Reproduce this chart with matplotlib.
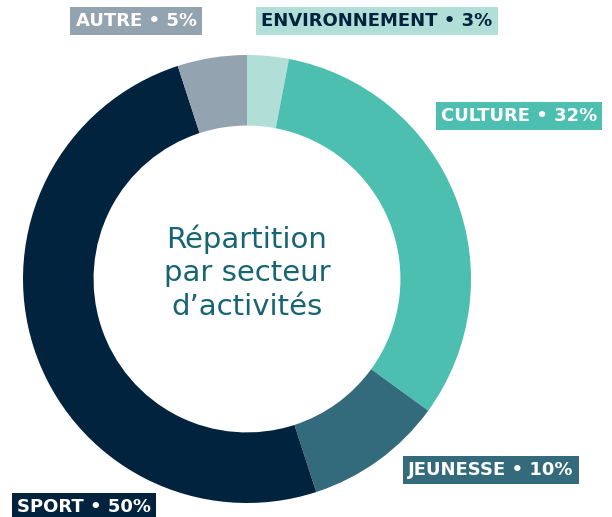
import matplotlib
matplotlib.use('Agg')
import matplotlib.pyplot as plt

# Activity sectors, clockwise from 12 o'clock
sectors = ['ENVIRONNEMENT', 'CULTURE', 'JEUNESSE', 'SPORT', 'AUTRE']
shares = [3, 32, 10, 50, 5]
colors = ['#b2ded8', '#4cbfb1', '#346b7c', '#02233d', '#94a3b0']
text_colors = ['#02233d', 'white', 'white', 'white', 'white']

# label anchor (pixels from top-left) for each sector tag
label_pos = {
    'ENVIRONNEMENT': (377, 21),
    'CULTURE': (519, 116),
    'JEUNESSE': (491, 470),
    'SPORT': (84, 507),
    'AUTRE': (136, 21),
}

W, H = 612, 517
fig = plt.figure(figsize=(W / 100, H / 100), dpi=100)

cx, cy, r = 247, 279, 224
ax = fig.add_axes([(cx - r) / W, (H - cy - r) / H, 2 * r / W, 2 * r / H])
ax.pie(shares, colors=colors, startangle=90, counterclock=False,
       radius=1.0, wedgeprops=dict(width=0.315, linewidth=0))
ax.set_xlim(-1, 1)
ax.set_ylim(-1, 1)
ax.set_aspect('equal')
ax.axis('off')

ax.text(0, 0.03, 'Répartition\npar secteur\nd’activités', ha='center', va='center',
        fontsize=21, color='#176473', linespacing=1.25, family='DejaVu Sans')

for name, val, col, tcol in zip(sectors, shares, colors, text_colors):
    x, y = label_pos[name]
    fig.text(x / W, 1 - y / H, f'{name} • {val}%', ha='center', va='center',
             fontsize=13, fontweight='bold', color=tcol,
             bbox=dict(boxstyle='square,pad=0.28', facecolor=col, edgecolor='none'))

fig.savefig('out.png', dpi=100)
